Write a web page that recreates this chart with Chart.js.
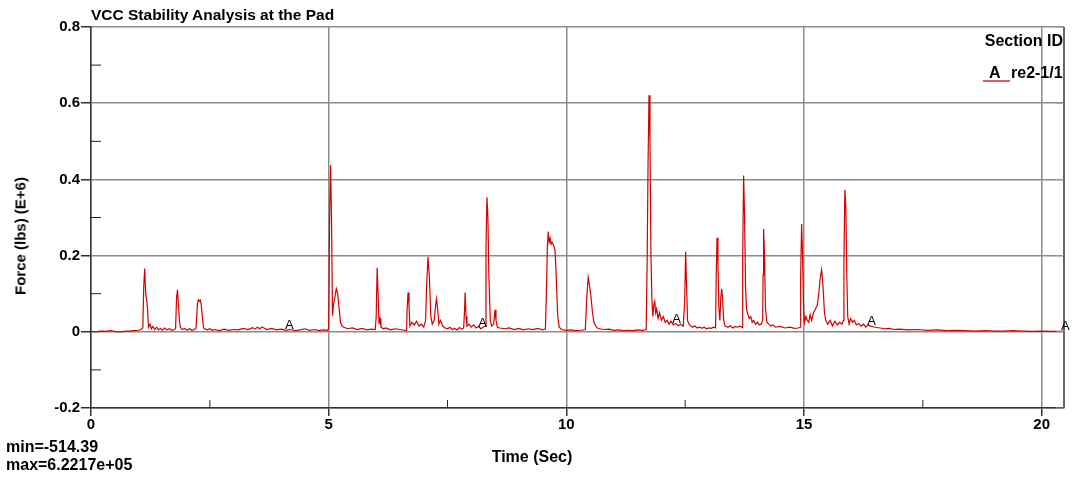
<!DOCTYPE html>
<html>
<head>
<meta charset="utf-8">
<script src="https://cdn.jsdelivr.net/npm/chart.js@4.4.1/dist/chart.umd.min.js"></script>
<style>
  html, body { margin: 0; padding: 0; background: #fff; }
  #wrap { position: relative; width: 1073px; height: 479px; overflow: hidden; font-family: "Liberation Sans", Arial, sans-serif; }
  #c { position: absolute; left: 0; top: 0; }
  .t { position: absolute; font-weight: bold; color: #000; white-space: nowrap; line-height: 1; }
</style>
</head>
<body>
<div id="wrap">
  <canvas id="c" width="1073" height="479"></canvas>
  <div class="t" id="title" style="left:91px; top:7px; font-size:15.5px;">VCC Stability Analysis at the Pad</div>
  <div class="t" id="ytitle" style="left:20px; top:236px; font-size:15px; transform: translate(-50%,-50%) rotate(-90deg);">Force (lbs) (E+6)</div>
  <div class="t" id="xtitle" style="left:532px; top:457px; font-size:16px; transform: translate(-50%,-50%);">Time (Sec)</div>
  <div class="t" id="minv" style="left:6px; top:439px; font-size:16px;">min=-514.39</div>
  <div class="t" id="maxv" style="left:6px; top:457px; font-size:16px;">max=6.2217e+05</div>
  <div class="t" style="right:10px; top:33px; font-size:16px;">Section ID</div>
  <div class="t" style="left:989px; top:65px; font-size:16px;">A</div>
  <div class="t" style="left:1011px; top:65px; font-size:16px;">re2-1/1</div>
  <div style="position:absolute; left:983px; top:80px; width:27px; height:2px; background:#d86060;"></div>
</div>
<script>
// ---- data (time in seconds, force in E+6 lbs) ----
const times = [
  0,0.1,0.2,0.3,0.4,0.5,0.6,0.7,0.8,0.9,1.0,1.05,
  1.09,1.11,1.13,1.15,1.17,1.19,1.21,1.24,1.27,1.30,1.34,1.38,1.42,1.46,1.50,1.55,1.60,1.65,1.70,1.76,
  1.78,1.80,1.82,1.84,1.86,1.88,1.92,1.97,2.02,2.07,2.12,2.18,
  2.21,2.24,2.26,2.28,2.30,2.32,2.35,2.37,2.40,
  2.45,2.5,2.55,2.6,2.7,2.8,2.9,3.0,3.1,3.2,3.3,3.4,3.45,3.5,3.55,3.6,3.7,3.8,3.9,4.0,4.1,4.2,4.3,4.4,4.5,4.6,4.7,4.8,4.9,4.98,
  5.0,5.02,5.04,5.06,5.08,5.10,5.13,5.16,5.19,5.22,5.25,5.28,5.32,5.4,5.5,5.6,5.7,5.8,5.9,5.98,
  6.00,6.02,6.04,6.06,6.08,6.10,6.15,6.2,6.3,6.4,6.5,6.6,6.64,
  6.65,6.67,6.69,6.71,6.75,6.8,6.85,6.9,6.95,7.0,7.04,
  7.06,7.09,7.12,7.15,7.18,7.22,7.25,7.27,7.30,7.32,7.35,7.4,7.45,7.5,7.55,7.6,7.65,7.7,7.75,7.8,7.84,
  7.86,7.87,7.89,7.91,7.95,8.0,8.05,8.1,8.15,8.2,8.25,8.29,
  8.31,8.33,8.35,8.37,8.40,8.43,8.47,8.50,8.52,8.55,8.6,8.7,8.8,8.9,9.0,9.1,9.2,9.3,9.4,9.5,9.56,
  9.58,9.60,9.62,9.64,9.66,9.68,9.70,9.73,9.76,9.78,9.80,9.82,9.85,9.9,10.0,10.1,10.2,10.3,10.4,
  10.43,10.46,10.49,10.52,10.55,10.58,10.62,10.65,10.7,10.8,10.9,11.0,11.1,11.2,11.3,11.4,11.5,11.6,11.68,
  11.70,11.72,11.74,11.76,11.78,11.80,11.82,11.84,11.86,11.88,11.90,11.93,11.96,12.0,12.04,12.08,12.12,12.16,12.2,12.25,12.3,12.35,12.4,12.46,
  12.49,12.51,12.53,12.55,12.58,12.62,12.66,12.7,12.75,12.8,12.85,12.9,12.95,13.0,13.05,13.1,13.14,
  13.15,13.17,13.19,13.21,13.23,13.25,13.27,13.29,13.31,13.34,13.4,13.45,13.5,13.55,13.6,13.65,13.7,
  13.71,13.73,13.75,13.77,13.79,13.82,13.85,13.88,13.91,13.94,13.98,14.02,14.06,14.1,14.13,
  14.14,14.15,14.17,14.19,14.22,14.26,14.3,14.35,14.4,14.5,14.6,14.7,14.8,14.88,14.92,
  14.93,14.95,14.97,14.99,15.01,15.04,15.07,15.1,15.13,15.16,15.2,15.24,15.28,15.31,15.34,15.37,15.40,15.43,15.46,15.5,15.55,15.6,15.65,15.7,15.75,15.8,15.83,
  15.84,15.86,15.88,15.90,15.92,15.95,15.98,16.02,16.06,16.1,16.15,16.2,16.25,16.3,16.35,16.4,16.5,16.6,16.7,16.8,16.9,17.0,17.2,17.4,17.6,17.8,18.0,18.2,18.4,18.6,18.8,19.0,19.2,19.4,19.6,19.8,20.0,20.2,20.47
];
const force = [
  0.001,0.0,0.002,0.001,0.003,0.001,0.0,0.001,0.002,0.003,0.004,0.006,
  0.01,0.12,0.166,0.10,0.085,0.06,0.012,0.02,0.008,0.014,0.006,0.012,0.005,0.009,0.004,0.01,0.005,0.008,0.004,0.006,
  0.01,0.09,0.11,0.07,0.03,0.012,0.006,0.009,0.004,0.008,0.004,0.006,
  0.01,0.075,0.084,0.08,0.083,0.07,0.03,0.01,0.007,
  0.005,0.008,0.004,0.006,0.003,0.007,0.004,0.006,0.005,0.009,0.006,0.011,0.007,0.012,0.008,0.013,0.006,0.009,0.005,0.007,0.004,0.006,0.003,0.005,0.008,0.004,0.006,0.003,0.005,0.004,
  0.01,0.30,0.437,0.30,0.042,0.07,0.09,0.113,0.10,0.06,0.025,0.015,0.012,0.008,0.01,0.006,0.009,0.005,0.007,0.006,
  0.04,0.168,0.10,0.02,0.035,0.012,0.008,0.01,0.005,0.008,0.006,0.004,0.003,
  0.06,0.103,0.07,0.015,0.025,0.018,0.028,0.015,0.02,0.012,0.03,
  0.12,0.197,0.14,0.04,0.02,0.03,0.07,0.087,0.05,0.02,0.03,0.015,0.01,0.008,0.012,0.006,0.009,0.005,0.011,0.007,0.01,
  0.06,0.103,0.04,0.015,0.02,0.012,0.018,0.01,0.014,0.008,0.012,0.015,
  0.22,0.353,0.30,0.15,0.03,0.015,0.02,0.058,0.03,0.012,0.01,0.008,0.01,0.006,0.009,0.005,0.008,0.006,0.009,0.005,0.007,
  0.1,0.22,0.263,0.235,0.245,0.23,0.235,0.228,0.215,0.17,0.10,0.04,0.012,0.006,0.004,0.005,0.003,0.004,0.006,
  0.09,0.143,0.12,0.09,0.05,0.025,0.015,0.01,0.008,0.006,0.007,0.004,0.005,0.003,0.004,0.003,0.005,0.004,0.006,
  0.18,0.45,0.621,0.5,0.2,0.087,0.04,0.07,0.08,0.05,0.06,0.035,0.05,0.03,0.04,0.025,0.03,0.02,0.028,0.018,0.022,0.016,0.02,0.015,
  0.08,0.21,0.12,0.03,0.02,0.015,0.012,0.016,0.01,0.013,0.009,0.012,0.008,0.01,0.009,0.012,0.01,
  0.12,0.247,0.18,0.06,0.03,0.09,0.113,0.08,0.03,0.015,0.012,0.016,0.01,0.014,0.012,0.015,0.011,
  0.2,0.41,0.3,0.12,0.06,0.045,0.035,0.04,0.025,0.03,0.02,0.025,0.018,0.02,0.03,
  0.15,0.27,0.2,0.06,0.025,0.02,0.015,0.018,0.012,0.014,0.01,0.012,0.009,0.01,0.012,
  0.15,0.283,0.2,0.07,0.025,0.04,0.03,0.025,0.045,0.03,0.05,0.06,0.07,0.1,0.14,0.163,0.12,0.05,0.03,0.02,0.03,0.015,0.028,0.018,0.025,0.02,0.03,
  0.18,0.373,0.33,0.15,0.04,0.02,0.035,0.025,0.03,0.018,0.022,0.015,0.02,0.012,0.018,0.015,0.012,0.01,0.008,0.009,0.006,0.007,0.005,0.006,0.004,0.005,0.003,0.004,0.003,0.002,0.003,0.002,0.002,0.003,0.002,0.001,0.002,0.001,0.001
];
// curve label markers ("A") along the trace
const markerTimes = [4.17, 8.24, 12.32, 16.42, 20.5];
const markerForce = [0.005, 0.009, 0.02, 0.015, 0.001];
const markerText = 'A';
// axis ticks
const yMin = -0.2, yMax = 0.8, yStep = 0.2;
const xMin = 0, xMax = 20.47, xStep = 5;

const traceData = times.map((t, i) => ({ x: t, y: force[i] }));
const markerData = markerTimes.map((t, i) => ({ x: t, y: markerForce[i] }));

const decor = {
  id: 'decor',
  afterDraw(chart) {
    const { ctx, chartArea: ca, scales: { x, y } } = chart;
    ctx.save();
    ctx.strokeStyle = '#333';
    ctx.lineWidth = 1.5;
    ctx.beginPath(); ctx.moveTo(ca.right, ca.top); ctx.lineTo(ca.right, ca.bottom); ctx.stroke();
    ctx.lineWidth = 1;
    const yt = y.ticks;
    for (let i = 0; i < yt.length; i++) {
      const py = y.getPixelForValue(yt[i].value);
      ctx.strokeStyle = '#999';
      ctx.beginPath(); ctx.moveTo(ca.right - 8, py); ctx.lineTo(ca.right, py); ctx.stroke();
      if (i < yt.length - 1) {
        const pm = y.getPixelForValue((yt[i].value + yt[i + 1].value) / 2);
        ctx.strokeStyle = '#222';
        ctx.beginPath(); ctx.moveTo(ca.left, pm); ctx.lineTo(ca.left + 10, pm); ctx.stroke();
      }
    }
    const xt = x.ticks;
    ctx.strokeStyle = '#222';
    for (let i = 0; i < xt.length; i++) {
      const mid = xt[i].value + xStep / 2;
      if (mid < xMax) {
        const pm = x.getPixelForValue(mid);
        ctx.beginPath(); ctx.moveTo(pm, ca.bottom); ctx.lineTo(pm, ca.bottom - 8); ctx.stroke();
      }
    }
    const meta = chart.getDatasetMeta(1);
    ctx.fillStyle = '#000';
    ctx.font = '13px "Liberation Sans", Arial, sans-serif';
    ctx.textAlign = 'center';
    ctx.textBaseline = 'alphabetic';
    meta.data.forEach(pt => { ctx.fillText(markerText, pt.x, pt.y - 1); });
    ctx.restore();
  }
};

new Chart(document.getElementById('c'), {
  type: 'line',
  data: {
    datasets: [
      { label: 're2-1/1', data: traceData, borderColor: '#d40000', borderWidth: 1.2, pointRadius: 0, tension: 0, fill: false },
      { label: 'markers', data: markerData, showLine: false, pointRadius: 0, pointHoverRadius: 0, clip: false }
    ]
  },
  options: {
    responsive: false,
    animation: false,
    devicePixelRatio: 1,
    events: [],
    layout: { padding: { top: 27, right: 9, left: 0, bottom: 0 } },
    plugins: { legend: { display: false }, tooltip: { enabled: false }, title: { display: false } },
    scales: {
      x: {
        type: 'linear', min: xMin, max: xMax,
        afterFit(s) { s.height = 71; },
        border: { color: '#333', width: 1.5 },
        grid: { color: '#8c8c8c', lineWidth: 1.5, tickColor: '#333', tickLength: 8 },
        ticks: { stepSize: xStep, includeBounds: false, color: '#000', padding: 0, maxRotation: 0,
          font: { family: '"Liberation Sans", Arial, sans-serif', size: 15, weight: 'bold' },
          callback: v => String(v) }
      },
      y: {
        type: 'linear', min: yMin, max: yMax,
        afterFit(s) { s.width = 91; },
        border: { color: '#333', width: 1.5 },
        grid: { color: '#8c8c8c', lineWidth: 1.5, tickColor: '#333', tickLength: 10 },
        ticks: { stepSize: yStep, color: '#000', padding: 1,
          font: { family: '"Liberation Sans", Arial, sans-serif', size: 15, weight: 'bold' },
          callback: v => String(Number(v.toFixed(1))) }
      }
    }
  },
  plugins: [decor]
});
</script>
</body>
</html>
